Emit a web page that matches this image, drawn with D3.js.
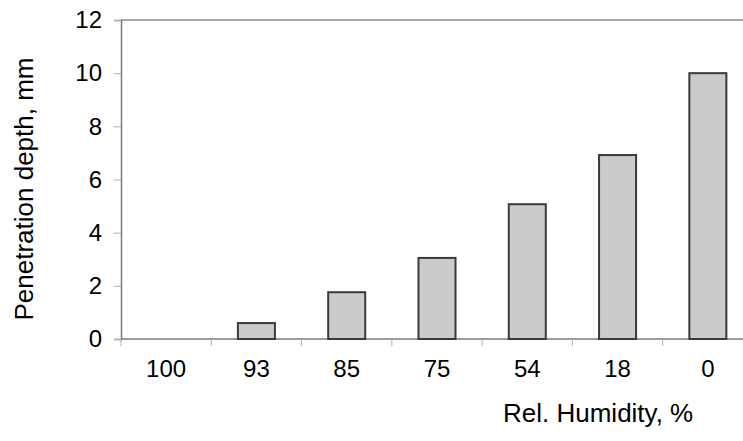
<!DOCTYPE html>
<html>
<head>
<meta charset="utf-8">
<script src="https://cdn.jsdelivr.net/npm/d3@7"></script>
<style>
  html, body { margin: 0; padding: 0; background: #fff; }
  svg { display: block; }
  text { font-family: "Liberation Sans", Arial, sans-serif; fill: #000; }
</style>
</head>
<body>
<svg id="chart" width="743" height="441"></svg>
<script>
const categories = ["100", "93", "85", "75", "54", "18", "0"];
const values = [0, 0.6, 1.76, 3.05, 5.07, 6.92, 10.0];
const yTicks = [0, 2, 4, 6, 8, 10, 12];
const xTitle = "Rel. Humidity, %";
const yTitle = "Penetration depth, mm";

(function () {
const svg = d3.select("#chart");
const pLeft = 121, pTop = 20, pBottom = 339, pRight = 753;

const x = d3.scaleBand().domain(categories).range([pLeft, pRight])
  .paddingInner(0.59).paddingOuter(0.295);
const y = d3.scaleLinear().domain([0, 12]).range([pBottom, pTop]);

// frame (top and right lines)
svg.append("line").attr("x1", pLeft).attr("x2", pRight).attr("y1", pTop).attr("y2", pTop)
  .attr("stroke", "#8a8a8a").attr("stroke-width", 1.5);
svg.append("line").attr("x1", pRight).attr("x2", pRight).attr("y1", pTop).attr("y2", pBottom)
  .attr("stroke", "#8a8a8a").attr("stroke-width", 1.5);

// y axis
const yAxis = d3.axisLeft(y).tickValues(yTicks).tickSize(7).tickPadding(12).tickFormat(d3.format("d"));
const gy = svg.append("g").attr("transform", `translate(${pLeft},0)`).call(yAxis);
gy.select(".domain").attr("stroke", "#7a7a7a").attr("stroke-width", 1.5);
gy.selectAll(".tick line").attr("stroke", "#b0b0b0").attr("stroke-width", 1);
gy.selectAll(".tick text").style("font-size", "24px").attr("fill", "#000")
  .style("font-family", "'Liberation Sans', Arial, sans-serif");

// x axis line and ticks at band boundaries
svg.append("line").attr("x1", pLeft).attr("x2", pRight).attr("y1", pBottom).attr("y2", pBottom)
  .attr("stroke", "#7a7a7a").attr("stroke-width", 1.5);
const boundaries = categories.map(c => x(c) - x.step() * x.paddingOuter());
svg.append("g").selectAll("line").data(boundaries).join("line")
  .attr("x1", d => d).attr("x2", d => d).attr("y1", pBottom).attr("y2", pBottom + 7)
  .attr("stroke", "#b0b0b0").attr("stroke-width", 1);
svg.append("g").selectAll("text").data(categories).join("text")
  .attr("x", d => x(d) + x.bandwidth() / 2).attr("y", pBottom + 38)
  .attr("text-anchor", "middle").style("font-size", "24px").text(d => d);

// bars
svg.append("g").selectAll("rect").data(categories.map((c, i) => ({c, v: values[i]})).filter(d => d.v > 0))
  .join("rect")
  .attr("x", d => x(d.c)).attr("width", x.bandwidth())
  .attr("y", d => y(d.v)).attr("height", d => y(0) - y(d.v))
  .attr("fill", "#cbcbcb").attr("stroke", "#3a3a3a").attr("stroke-width", 2);

// titles
svg.append("text").attr("x", 503).attr("y", 422).style("font-size", "26px").text(xTitle);
svg.append("text").attr("transform", `translate(33,${(56 + 322) / 2}) rotate(-90)`)
  .attr("text-anchor", "middle").style("font-size", "26px").text(yTitle);
})();
</script>
</body>
</html>
